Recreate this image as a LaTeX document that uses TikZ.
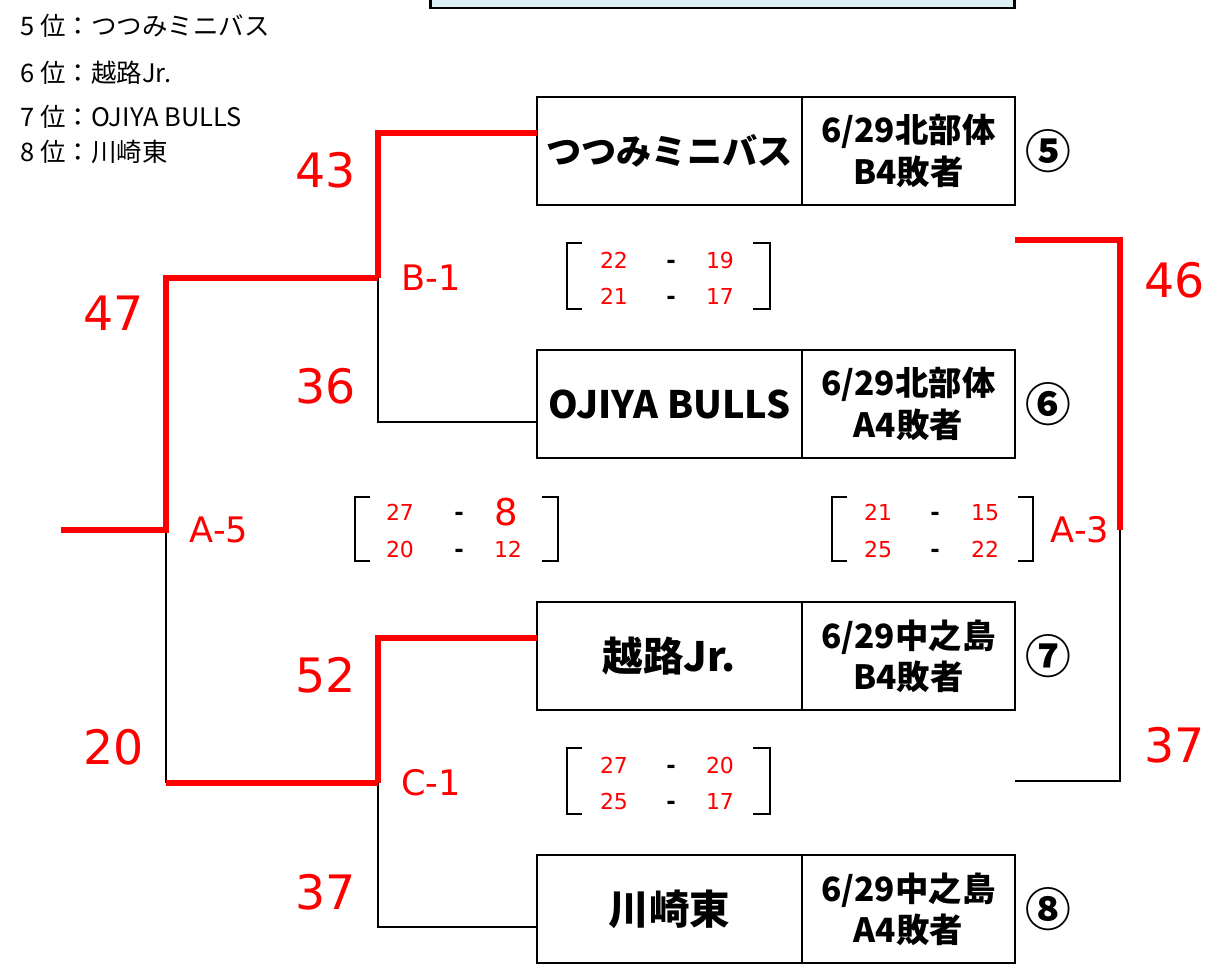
\documentclass[tikz,border=0pt]{standalone}
\usepackage{fontspec}
\setmainfont{Noto Sans CJK JP}
\newfontfamily\numfont{DejaVu Sans}
\usetikzlibrary{positioning}
\definecolor{boxblue}{RGB}{218,238,243}
\tikzset{
  win/.style={red, line width=3.4pt},
  lose/.style={black, line width=1.1pt},
  brk/.style={black, line width=0.9pt},
  team/.style={draw, line width=1.1pt, minimum width=5.3cm, minimum height=2.16cm,
    outer sep=0pt, inner sep=0pt, font=\bfseries\fontsize{23}{27}\selectfont},
  venue/.style={draw, line width=1.1pt, minimum width=4.26cm, minimum height=2.16cm,
    outer sep=0pt, inner sep=0pt, align=center, font=\bfseries\fontsize{19}{23.5}\selectfont},
  rank/.style={font=\bfseries\fontsize{26}{28}\selectfont, inner sep=0pt},
  legend/.style={anchor=west, inner sep=0pt, font=\fontsize{14.5}{16}\selectfont},
  pts/.style={red, font=\numfont\fontsize{27}{30}\selectfont},
  game/.style={red, font=\numfont\fontsize{20}{24}\selectfont},
  sc/.style={red, text height=9pt, text depth=0pt, inner sep=0pt,
    font=\numfont\fontsize{12.5}{14}\selectfont},
  scdash/.style={black, text height=9pt, text depth=0pt, inner sep=0pt,
    font=\numfont\bfseries\fontsize{13}{14}\selectfont}
}
\begin{document}
\begin{tikzpicture}[x=0.02cm, y=-0.02cm]
\useasboundingbox (0,0) rectangle (1232,964);
% top box, cut by the page edge
\draw [fill=boxblue, line width=1.7pt] (8.62cm,0.4cm) rectangle (20.3cm,-0.16cm);

% ranking
\node [legend] (l5) at (20,26) {5 位：つつみミニバス};
\node [legend] (l6) at (20,73) {6 位：越路Jr.};
\node [legend] (l7) at (20,117) {7 位：OJIYA BULLS};
\node [legend] (l8) at (20,152) {8 位：川崎東};

% teams
\node [team, font=\bfseries\fontsize{20}{24}\selectfont] (n5) at (669.5,151) {つつみミニバス};
\node [venue, right=0pt of n5] (v5) {6/29北部体\\B4敗者};
\node [rank, right=0.2cm of v5] (r5) {⑤};
\node [team, font=\bfseries\fontsize{21.5}{24}\selectfont] (n6) at (669.5,404) {OJIYA BULLS};
\node [venue, right=0pt of n6] (v6) {6/29北部体\\A4敗者};
\node [rank, right=0.2cm of v6] (r6) {⑥};
\node [team] (n7) at (669.5,656) {越路Jr.};
\node [venue, right=0pt of n7] (v7) {6/29中之島\\B4敗者};
\node [rank, right=0.2cm of v7] (r7) {⑦};
\node [team] (n8) at (669.5,909) {川崎東};
\node [venue, right=0pt of n8] (v8) {6/29中之島\\A4敗者};
\node [rank, right=0.2cm of v8] (r8) {⑧};

% match points
\coordinate (b1) at (378,278);
\coordinate (c1) at (378,783);
\coordinate (a5) at (166,530);
\coordinate (a5out) at (61,530);
\coordinate (a3) at (1120,530);
\coordinate (a3top) at (1015,240);
\coordinate (a3bot) at (1015,781);

% lines
\draw [lose] (b1) |- ([yshift=-0.36cm]n6.west);
\draw [win] ([yshift=0.36cm]n5.west) -| (b1);
\draw [lose] (c1) |- ([yshift=-0.36cm]n8.west);
\draw [win] ([yshift=0.36cm]n7.west) -| (c1);
\draw [lose] (a5) -- (a5 |- c1);
\draw [win] (c1) -- (a5 |- c1);
\draw [win] (a5out) -- (a5) |- (b1);
\draw [lose] (a3) |- (a3bot);
\draw [win] (a3top) -| (a3);

% points
\node [pts] (p43) at (326,170) {43};
\node [pts] (p36) at (326,386) {36};
\node [pts] (p52) at (326,675) {52};
\node [pts] (p37) at (326,892) {37};
\node [pts] (p47) at (114,313) {47};
\node [pts] (p20) at (114,747) {20};
\node [pts] (p46) at (1175,280) {46};
\node [pts] (p37b) at (1175,745) {37};

% match labels
\node [game] (gb1) at (431,278) {B-1};
\node [game] (gc1) at (431,783) {C-1};
\node [game] (ga5) at (219,530) {A-5};
\node [game] (ga3) at (1080,530) {A-3};

% quarter scores B-1
\draw [brk] (582,243) -- (567,243) -- (567,309) -- (582,309);
\draw [brk] (753,243) -- (770,243) -- (770,309) -- (753,309);
\node [sc] (sb1a) at (614,261) {22};
\node [scdash] (db1a) at (671,261) {-};
\node [sc] (sb1b) at (720,261) {19};
\node [sc] (sb1c) at (614,297) {21};
\node [scdash] (db1b) at (671,297) {-};
\node [sc] (sb1d) at (720,297) {17};

% quarter scores C-1
\draw [brk] (582,748) -- (567,748) -- (567,814) -- (582,814);
\draw [brk] (753,748) -- (770,748) -- (770,814) -- (753,814);
\node [sc] (sc1a) at (614,766) {27};
\node [scdash] (dc1a) at (671,766) {-};
\node [sc] (sc1b) at (720,766) {20};
\node [sc] (sc1c) at (614,802) {25};
\node [scdash] (dc1b) at (671,802) {-};
\node [sc] (sc1d) at (720,802) {17};

% quarter scores A-5
\draw [brk] (370,497) -- (355,497) -- (355,561) -- (370,561);
\draw [brk] (542,497) -- (558,497) -- (558,561) -- (542,561);
\node [sc] (sa5a) at (400,513) {27};
\node [scdash] (da5a) at (459,513) {-};
\node [red, font=\numfont\fontsize{21}{24}\selectfont] (sa5b) at (506,512) {8};
\node [sc] (sa5c) at (400,550) {20};
\node [scdash] (da5b) at (459,550) {-};
\node [sc] (sa5d) at (508,550) {12};

% quarter scores A-3
\draw [brk] (847,497) -- (832,497) -- (832,561) -- (847,561);
\draw [brk] (1018,497) -- (1033,497) -- (1033,561) -- (1018,561);
\node [sc] (sa3a) at (878,513) {21};
\node [scdash] (da3a) at (935,513) {-};
\node [sc] (sa3b) at (985,513) {15};
\node [sc] (sa3c) at (878,550) {25};
\node [scdash] (da3b) at (935,550) {-};
\node [sc] (sa3d) at (985,550) {22};
\end{tikzpicture}
\end{document}
